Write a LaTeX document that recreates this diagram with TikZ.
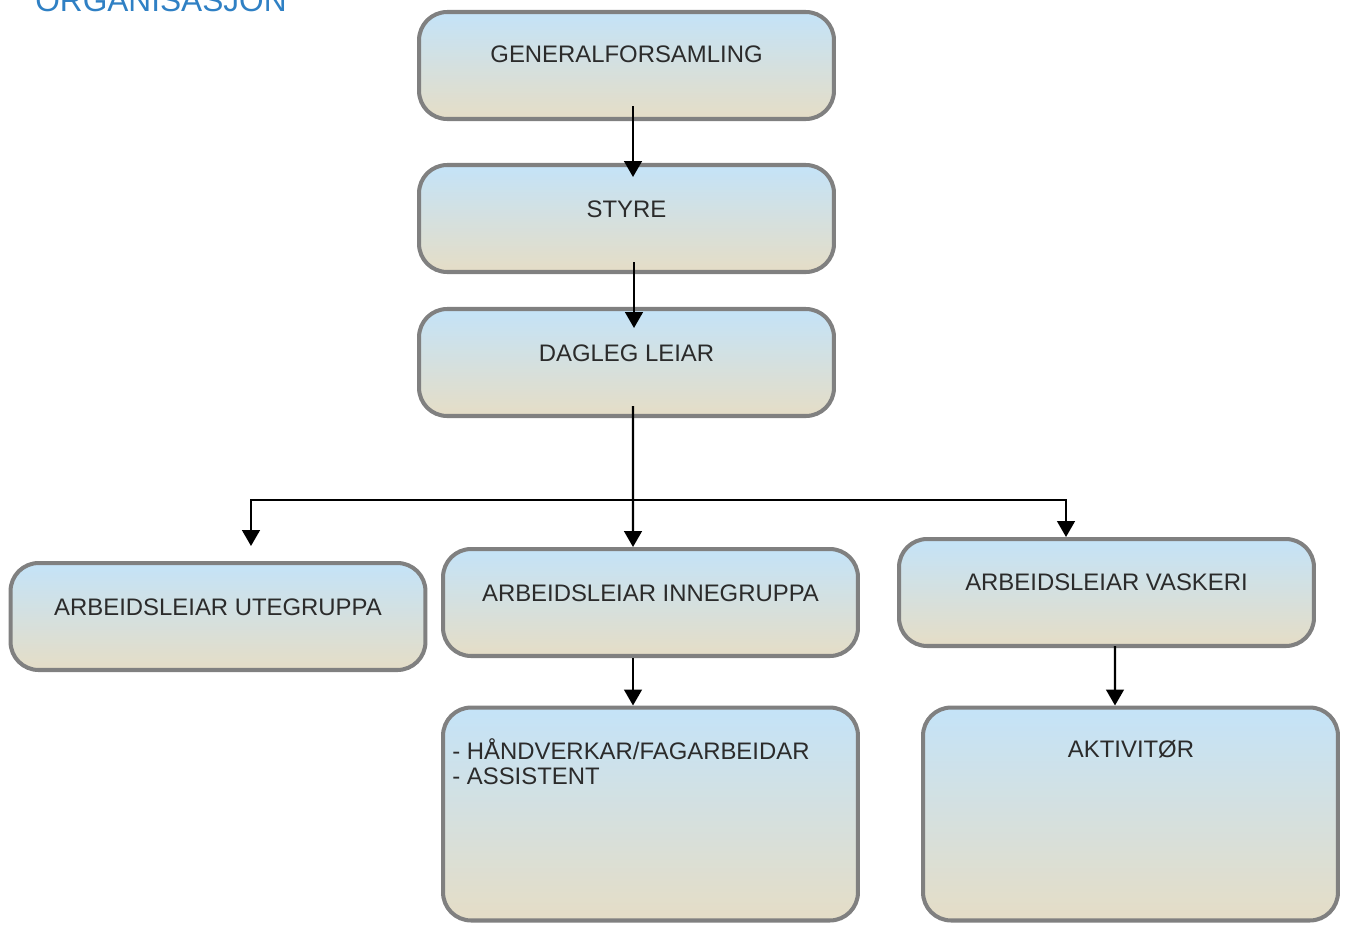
\documentclass[tikz,border=0pt]{standalone}
\usepackage{fontspec}
\setmainfont{Liberation Sans}
\usetikzlibrary{arrows.meta}

\definecolor{boxtop}{HTML}{C4E3F8}
\definecolor{boxbot}{HTML}{E5DDC6}
\definecolor{boxgray}{HTML}{808080}
\definecolor{txtgray}{HTML}{2B2B2B}
\definecolor{titleblue}{HTML}{2F80C4}

\tikzset{
  orgbox/.style={draw=boxgray, line width=2.3pt, rounded corners=16pt,
    top color=boxtop, bottom color=boxbot, minimum width=8.3cm,
    minimum height=2.14cm, inner sep=0pt},
  tallbox/.style={orgbox, minimum height=4.26cm},
  orgtext/.style={font=\fontsize{13.6}{14.2}\selectfont, text=txtgray, inner sep=0pt},
  flow/.style={line width=1.3pt, -{Triangle[width=10pt,length=9pt]}}
}

\begin{document}
\begin{tikzpicture}[x=0.02cm, y=-0.02cm]
    \useasboundingbox (0,0) rectangle (1346,924);

    % Title (cut by the top edge)
    \node[anchor=base west, inner sep=0pt, text=titleblue,
          font=\fontsize{18}{20}\selectfont] (title) at (35,11) {ORGANISASJON};

    % Boxes
    \node[orgbox] (gen)  at (626.5,65.5)  {};
    \node[orgbox] (sty)  at (626.5,218.5) {};
    \node[orgbox] (dag)  at (626.5,362.5) {};
    \node[orgbox] (ute)  at (218,616.5)   {};
    \node[orgbox] (inne) at (650.5,602.5) {};
    \node[orgbox] (vask) at (1106.5,592.5) {};
    \node[tallbox] (hand) at (650.5,814)  {};
    \node[tallbox] (akt)  at (1130.5,814) {};

    % Texts (set high in the boxes)
    \node[orgtext] (genT)  at (626.5,54)  {GENERALFORSAMLING};
    \node[orgtext] (styT)  at (626.5,209) {STYRE};
    \node[orgtext] (dagT)  at (626.5,353) {DAGLEG LEIAR};
    \node[orgtext] (uteT)  at (218,607)   {ARBEIDSLEIAR UTEGRUPPA};
    \node[orgtext] (inneT) at (650.5,593) {ARBEIDSLEIAR INNEGRUPPA};
    \node[orgtext] (vaskT) at (1106.5,582) {ARBEIDSLEIAR VASKERI};
    \node[orgtext, anchor=west, align=left] (handT) at (452,761.5)
        {- HÅNDVERKAR/FAGARBEIDAR\\- ASSISTENT};
    \node[orgtext] (aktT)  at (1131,749)  {AKTIVITØR};

    % Connectors
    \draw[flow] ([xshift=0.13cm,yshift=0.3cm]gen.south) -- ([xshift=0.13cm,yshift=-0.28cm]sty.north);
    \draw[flow] ([xshift=0.15cm,yshift=0.24cm]sty.south) -- ([xshift=0.15cm,yshift=-0.42cm]dag.north);
    \draw[flow] ([xshift=0.13cm,yshift=0.24cm]dag.south) -- ([xshift=-0.35cm]inne.north);

    \coordinate (split) at (633,500);
    \draw[flow] (split) -| ([xshift=0.66cm,yshift=0.3cm]ute.north);
    \draw[flow] (split) -| ([xshift=-0.81cm]vask.north);

    \draw[flow] ([xshift=-0.35cm]inne.south) -- ([xshift=-0.35cm]hand.north);
    \draw[flow] ([xshift=0.17cm,yshift=0.04cm]vask.south) -- ([xshift=-0.31cm]akt.north);
\end{tikzpicture}
\end{document}
